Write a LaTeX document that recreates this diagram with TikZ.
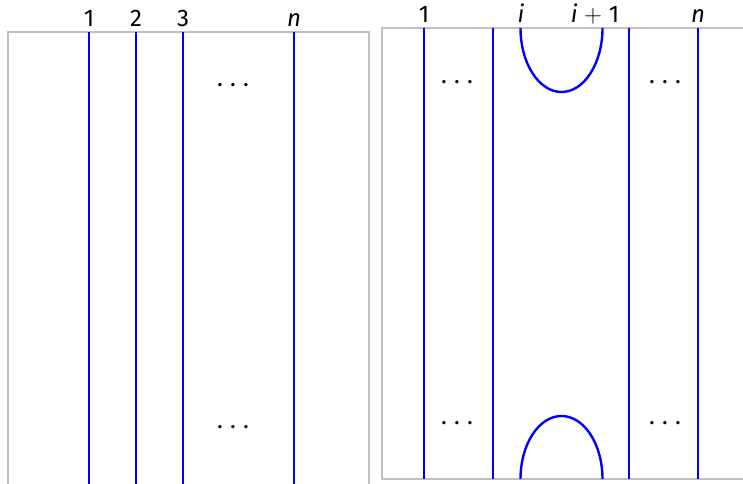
\documentclass[tikz,border=0pt]{standalone}
\usepackage{fontspec}
\setmainfont{Fira Sans}
\definecolor{framegray}{RGB}{192,192,192}
\definecolor{strand}{RGB}{0,0,255}
\newcommand{\threedots}{.\hspace{7.2pt}.\hspace{7.2pt}.}
\tikzset{
  frame/.style={draw=framegray, line width=2.7pt},
  strandline/.style={draw=strand, line width=2.4pt},
  lbl/.style={anchor=base, inner sep=0pt, font=\fontsize{24}{24}\selectfont},
  dotsnode/.style={anchor=base, inner sep=0pt, font=\fontsize{24}{24}\selectfont}
}
\begin{document}
\begin{tikzpicture}[x=1pt,y=1pt]
\useasboundingbox (0,0) rectangle (743,483);
\clip (0,0) rectangle (743,483);
% left frame
\draw[frame] (8,-20) -- (8,451) -- (369,451) -- (369,-20);
% right frame
\draw[frame] (760,455) -- (382,455) -- (382,4) -- (760,4);
% left strands
\foreach \n/\x in {a/89,b/136,c/183,d/294}{
  \coordinate (L\n top) at (\x,451);
  \coordinate (L\n bot) at (\x,-20);
  \draw[strandline] (L\n top) -- (L\n bot);
}
\node[lbl] (l1) at (89,456) {1};
\node[lbl] (l2) at (136,456) {2};
\node[lbl] (l3) at (183,456) {3};
\node[lbl] (ln) at (294,456) {\textit{n}};
\node[dotsnode] (ldt) at (233,396.5) {\threedots};
\node[dotsnode] (ldb) at (233,54.5) {\threedots};
% right strands
\foreach \n/\x in {a/424,b/493,c/629,d/698}{
  \coordinate (R\n top) at (\x,455);
  \coordinate (R\n bot) at (\x,4);
  \draw[strandline] (R\n top) -- (R\n bot);
}
\coordinate (capL) at (520.5,455);
\coordinate (cupL) at (520.5,4);
\draw[strandline] (capL) arc[start angle=180, end angle=360, x radius=41, y radius=64];
\draw[strandline] (cupL) arc[start angle=180, end angle=0, x radius=41, y radius=63];
\node[lbl] (r1) at (424,460) {1};
\node[lbl] (ri) at (521,460) {\textit{i}};
\node[lbl] (rip) at (595,460) {\textit{i}\;$+$\;1};
\node[lbl] (rn) at (698,460) {\textit{n}};
\node[dotsnode] (rdt1) at (457,399.5) {\threedots};
\node[dotsnode] (rdb1) at (457,58.5) {\threedots};
\node[dotsnode] (rdt2) at (665,399.5) {\threedots};
\node[dotsnode] (rdb2) at (665,58.5) {\threedots};
\end{tikzpicture}
\end{document}
